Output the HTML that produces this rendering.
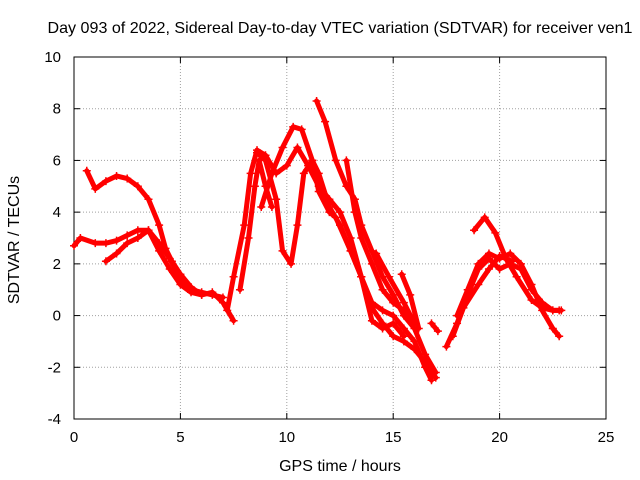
<!DOCTYPE html>
<html><head><meta charset="utf-8"><style>
body{margin:0;background:#fff;}
svg{display:block;font-family:"Liberation Sans",sans-serif;}
</style></head><body>
<svg id="chart" width="640" height="480">
<text x="340" y="33" text-anchor="middle" font-size="16" textLength="585" lengthAdjust="spacingAndGlyphs">Day 093 of 2022, Sidereal Day-to-day VTEC variation (SDTVAR) for receiver ven1</text>
<text x="340" y="471" text-anchor="middle" font-size="16">GPS time / hours</text>
<text transform="translate(19,240) rotate(-90)" text-anchor="middle" font-size="16">SDTVAR / TECUs</text>
<g id="grid"></g><g id="axes"></g><g id="series"></g>
</svg>
<script>
const xTicks=[0,5,10,15,20,25];
const yTicks=[-4,-2,0,2,4,6,8,10];
const trackA=[[0,2.7],[0.3,3.0],[1,2.8],[1.5,2.8],[2,2.9],[2.5,3.1],[3,3.3],[3.5,3.3],[4,2.8],[4.5,2.2],[5,1.4],[5.5,1.0],[6,0.9],[6.5,0.8],[7,0.7]];
const trackB=[[0.6,5.6],[1,4.9],[1.5,5.2],[2,5.4],[2.5,5.3],[3,5.0],[3.5,4.5],[4,3.5],[4.3,2.6],[4.6,2.1],[5,1.6],[5.5,1.1],[6,0.8]];
const trackC=[[1.5,2.1],[2,2.4],[2.5,2.8],[3,3.0],[3.5,3.3],[4,2.5],[4.5,1.8],[5,1.2],[5.5,0.9],[6,0.8],[6.5,0.9],[7,0.5],[7.5,-0.2]];
const trackD=[[7.2,0.2],[7.5,1.5],[8,3.5],[8.3,5.5],[8.6,6.4],[9,6.2],[9.5,5.5],[10,5.8],[10.5,6.5],[11,5.8],[11.5,5.0],[12,4.5],[12.5,4.0],[13,3.0],[13.5,1.5],[14,0.3],[14.5,-0.3],[15,-0.8],[15.5,-1.0],[16,-1.3],[16.5,-1.8],[17,-2.4]];
const trackE=[[7.8,1.0],[8.2,3.0],[8.5,5.0],[8.7,6.0],[9,5.0],[9.3,4.2]];
const trackF=[[8.6,6.3],[9,6.0],[9.5,4.5],[9.8,2.5],[10.2,2.0],[10.5,3.5],[10.8,5.5],[11.2,6.0],[11.5,5.5],[12,4.2],[12.5,3.5],[13,2.5],[13.5,1.5],[14,0.5],[14.5,0.2],[15,0.0],[15.5,-0.5],[16,-1.0],[16.5,-2.0],[16.8,-2.5]];
const trackG=[[8.8,4.2],[9.3,5.5],[9.8,6.5],[10.3,7.3],[10.7,7.2],[11.2,6.0],[11.5,4.8],[12,4.0],[12.3,3.8],[13,2.5],[13.5,1.5],[14,-0.2],[14.5,-0.5],[15,-0.3],[15.5,-0.8]];
const trackH=[[11.4,8.3],[11.8,7.5],[12.3,6.0],[12.8,5.0],[13.2,4.5],[13.5,3.5],[14,2.5],[14.5,1.5],[15,0.8],[15.5,0.0],[16,-0.5],[16.5,-1.5],[17,-2.2]];
const trackI=[[12.8,6.0],[13.2,4.0],[13.5,3.0],[14,2.0],[14.5,1.0],[15,0.5],[15.5,0.2],[16,-0.2]];
const trackJ=[[14.2,2.4],[14.8,1.5],[15.5,0.5],[16,-0.3]];
const trackK=[[15.4,1.6],[15.8,0.8],[16.2,-0.5]];
const trackL=[[16.8,-0.3],[17.1,-0.6]];
const trackM=[[17.5,-1.2],[18,-0.3],[18.5,0.8],[19,1.8],[19.5,2.2],[20,1.8],[20.5,2.0],[21,1.8],[21.5,1.0],[22,0.5],[22.5,0.2],[22.8,0.2]];
const trackN=[[18.8,3.3],[19.3,3.8],[19.8,3.2],[20.3,2.2],[20.8,1.5],[21.5,0.6],[22,0.3],[22.5,0.2],[22.9,0.2]];
const trackO=[[18,0.0],[18.5,1.0],[19,2.0],[19.5,2.4],[20,2.2],[20.5,2.4],[21,2.0],[21.5,1.2],[22,0.2],[22.5,-0.5],[22.8,-0.8]];
const trackP=[[17.8,-0.8],[18.3,0.3],[19,1.2],[19.5,1.8],[20,2.3],[20.6,2.1]];
const tracks=[trackA,trackB,trackC,trackD,trackE,trackF,trackG,trackH,trackI,trackJ,trackK,trackL,trackM,trackN,trackO,trackP];

const L=74,R=606,T=57,B=419,NS="http://www.w3.org/2000/svg";
const xs=v=>L+(v-0)/25*(R-L);
const ys=v=>B-(v+4)/14*(B-T);
function mk(tag,attrs,parent){const e=document.createElementNS(NS,tag);for(const k in attrs)e.setAttribute(k,attrs[k]);parent.appendChild(e);return e;}
const grid=document.getElementById('grid'),axes=document.getElementById('axes'),ser=document.getElementById('series');
xTicks.forEach(t=>{
  const x=xs(t);
  if(t>0&&t<25){const g=mk('line',{x1:x,x2:x,y1:T,y2:B,stroke:'#a0a0a0','stroke-dasharray':'1,2','stroke-width':1},grid);
  
  }
  mk('line',{x1:x,x2:x,y1:B,y2:B-6,stroke:'#000'},axes);
  mk('line',{x1:x,x2:x,y1:T,y2:T+6,stroke:'#000'},axes);
  const tx=mk('text',{x:x,y:B+23,'text-anchor':'middle','font-size':15},axes);tx.textContent=t;
  
  
});
yTicks.forEach(t=>{
  const y=ys(t);
  if(t>-4&&t<10){const g=mk('line',{x1:L,x2:R,y1:y,y2:y,stroke:'#a0a0a0','stroke-dasharray':'1,2','stroke-width':1},grid);
  
  }
  mk('line',{x1:L,x2:L+6,y1:y,y2:y,stroke:'#000'},axes);
  mk('line',{x1:R,x2:R-6,y1:y,y2:y,stroke:'#000'},axes);
  const tx=mk('text',{x:L-13,y:y+5,'text-anchor':'end','font-size':15},axes);tx.textContent=t;
  
  
});
const frame=mk('rect',{x:L,y:T,width:R-L,height:B-T,fill:'none',stroke:'#000'},axes);


tracks.forEach(tr=>{
  const p=mk('polyline',{points:tr.map(d=>xs(d[0])+','+ys(d[1])).join(' '),fill:'none',stroke:'#ff0000','stroke-width':5,'stroke-linejoin':'round','stroke-linecap':'round'},ser);
  
  
  tr.forEach(d=>{
    const x=xs(d[0]),y=ys(d[1]);
    const m=mk('path',{d:`M${x-4},${y}H${x+4}M${x},${y-4}V${y+4}`,stroke:'#ff0000','stroke-width':1.5},ser);
    
    
  });
});
</script>
</body></html>
